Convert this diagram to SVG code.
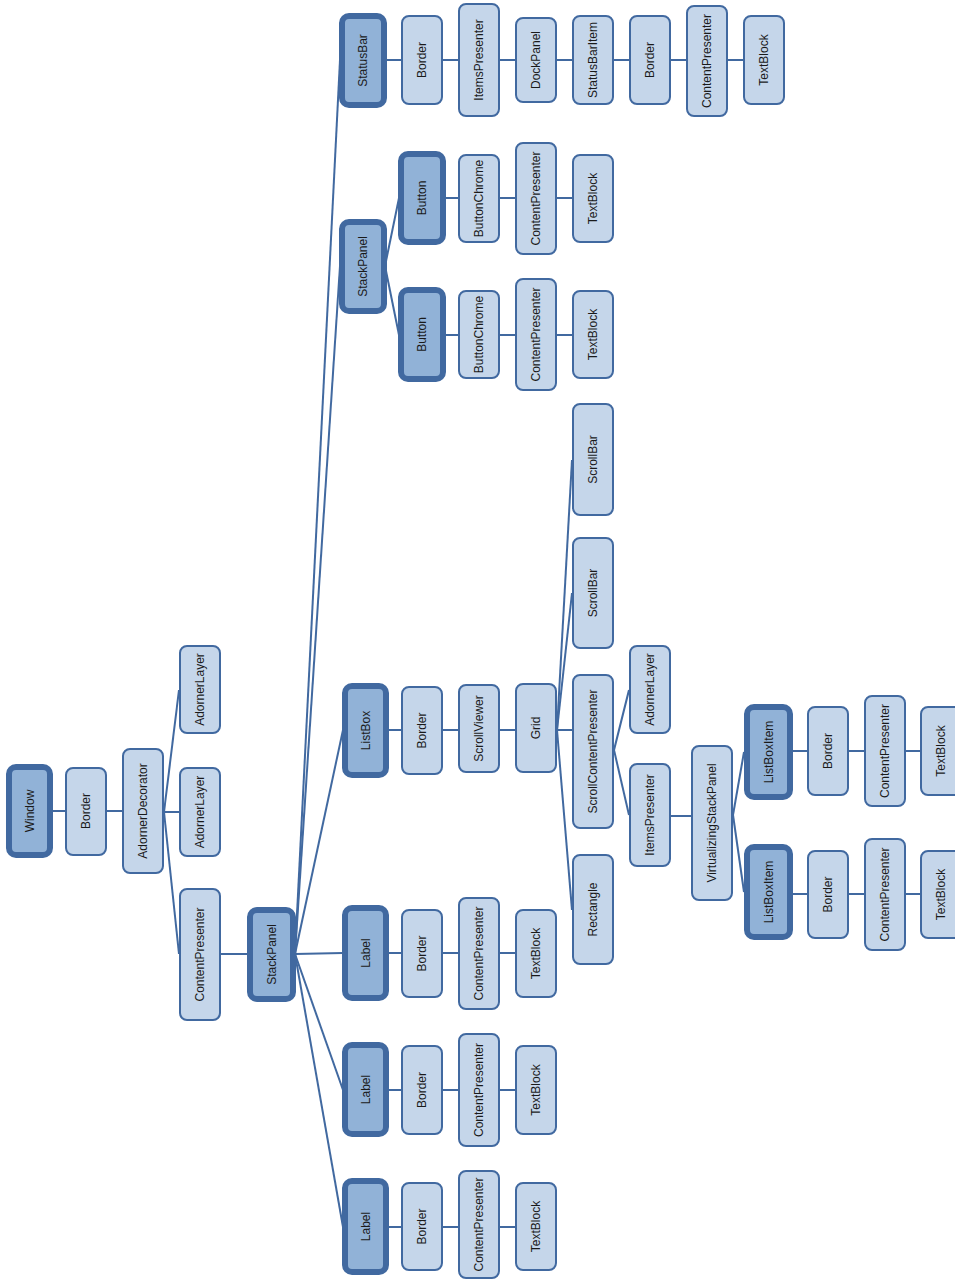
<svg xmlns="http://www.w3.org/2000/svg" width="955" height="1280" viewBox="0 0 955 1280">
<style>
.n{fill:#c5d6ea;stroke:#4169a0;stroke-width:2}
.t{fill:#91b2d7;stroke:#4169a0;stroke-width:6}
.e line{stroke:#4169a0;stroke-width:2}
text{font-family:"Liberation Sans",Arial,sans-serif;font-size:12px;fill:#1a1a1a;text-anchor:middle;dominant-baseline:central}
</style>
<rect width="955" height="1280" fill="#ffffff"/>
<g class="e" id="connectors">
<line x1="53" y1="811" x2="65" y2="811"/>
<line x1="107" y1="811" x2="122" y2="811"/>
<line x1="164" y1="812" x2="179" y2="690"/>
<line x1="164" y1="812" x2="179" y2="812"/>
<line x1="164" y1="812" x2="179" y2="954"/>
<line x1="221" y1="954" x2="247" y2="954"/>
<line x1="295" y1="954" x2="340" y2="60"/>
<line x1="295" y1="954" x2="340" y2="266"/>
<line x1="295" y1="954" x2="343" y2="730"/>
<line x1="295" y1="954" x2="343" y2="953"/>
<line x1="295" y1="954" x2="343" y2="1090"/>
<line x1="295" y1="954" x2="343" y2="1227"/>
<line x1="387" y1="60" x2="743" y2="60"/>
<line x1="385" y1="266" x2="399" y2="198"/>
<line x1="385" y1="266" x2="399" y2="335"/>
<line x1="446" y1="198" x2="572" y2="198"/>
<line x1="446" y1="335" x2="572" y2="335"/>
<line x1="389" y1="730" x2="515" y2="730"/>
<line x1="557" y1="730" x2="572" y2="460"/>
<line x1="557" y1="730" x2="572" y2="593"/>
<line x1="557" y1="730" x2="572" y2="730"/>
<line x1="557" y1="730" x2="572" y2="910"/>
<line x1="614" y1="750" x2="629" y2="690"/>
<line x1="614" y1="750" x2="629" y2="815"/>
<line x1="671" y1="816" x2="691" y2="816"/>
<line x1="733" y1="815" x2="744" y2="752"/>
<line x1="733" y1="815" x2="744" y2="892"/>
<line x1="793" y1="751" x2="920" y2="751"/>
<line x1="793" y1="894" x2="920" y2="894"/>
<line x1="389" y1="953" x2="515" y2="953"/>
<line x1="389" y1="1090" x2="515" y2="1090"/>
<line x1="389" y1="1227" x2="515" y2="1227"/>
</g>
<g id="window"><rect class="t" x="9" y="767" width="41" height="88" rx="7"/><text transform="rotate(-90 29.5 811)" x="29.5" y="811">Window</text></g>
<g id="border1"><rect class="n" x="66" y="768" width="40" height="87" rx="7"/><text transform="rotate(-90 86 811)" x="86" y="811">Border</text></g>
<g id="adornerDecorator"><rect class="n" x="123" y="749" width="40" height="124" rx="7"/><text transform="rotate(-90 143 811)" x="143" y="811">AdornerDecorator</text></g>
<g id="adornerLayer1"><rect class="n" x="180" y="646" width="40" height="87" rx="7"/><text transform="rotate(-90 200 689.5)" x="200" y="689.5">AdornerLayer</text></g>
<g id="adornerLayer2"><rect class="n" x="180" y="768" width="40" height="88" rx="7"/><text transform="rotate(-90 200 812)" x="200" y="812">AdornerLayer</text></g>
<g id="contentPresenter1"><rect class="n" x="180" y="889" width="40" height="131" rx="7"/><text transform="rotate(-90 200 954.5)" x="200" y="954.5">ContentPresenter</text></g>
<g id="stackPanel1"><rect class="t" x="250" y="910" width="43" height="89" rx="7"/><text transform="rotate(-90 271.5 954.5)" x="271.5" y="954.5">StackPanel</text></g>
<g id="statusBar"><rect class="t" x="342" y="16" width="42" height="89" rx="7"/><text transform="rotate(-90 363 60.5)" x="363" y="60.5">StatusBar</text></g>
<g id="sb_border"><rect class="n" x="402" y="16" width="40" height="88" rx="7"/><text transform="rotate(-90 422 60)" x="422" y="60">Border</text></g>
<g id="sb_itemsPresenter"><rect class="n" x="459" y="4" width="40" height="112" rx="7"/><text transform="rotate(-90 479 60)" x="479" y="60">ItemsPresenter</text></g>
<g id="sb_dockPanel"><rect class="n" x="516" y="18" width="40" height="84" rx="7"/><text transform="rotate(-90 536 60)" x="536" y="60">DockPanel</text></g>
<g id="sb_statusBarItem"><rect class="n" x="573" y="16" width="40" height="88" rx="7"/><text transform="rotate(-90 593 60)" x="593" y="60">StatusBarItem</text></g>
<g id="sb_border2"><rect class="n" x="630" y="16" width="40" height="88" rx="7"/><text transform="rotate(-90 650 60)" x="650" y="60">Border</text></g>
<g id="sb_contentPresenter"><rect class="n" x="687" y="6" width="40" height="110" rx="7"/><text transform="rotate(-90 707 61)" x="707" y="61">ContentPresenter</text></g>
<g id="sb_textBlock"><rect class="n" x="744" y="16" width="40" height="88" rx="7"/><text transform="rotate(-90 764 60)" x="764" y="60">TextBlock</text></g>
<g id="stackPanel2"><rect class="t" x="342" y="222" width="42" height="89" rx="7"/><text transform="rotate(-90 363 266.5)" x="363" y="266.5">StackPanel</text></g>
<g id="button1"><rect class="t" x="401" y="154" width="42" height="88" rx="7"/><text transform="rotate(-90 422 198)" x="422" y="198">Button</text></g>
<g id="b1_chrome"><rect class="n" x="459" y="155" width="40" height="87" rx="7"/><text transform="rotate(-90 479 198.5)" x="479" y="198.5">ButtonChrome</text></g>
<g id="b1_contentPresenter"><rect class="n" x="516" y="143" width="40" height="111" rx="7"/><text transform="rotate(-90 536 198.5)" x="536" y="198.5">ContentPresenter</text></g>
<g id="b1_textBlock"><rect class="n" x="573" y="155" width="40" height="87" rx="7"/><text transform="rotate(-90 593 198.5)" x="593" y="198.5">TextBlock</text></g>
<g id="button2"><rect class="t" x="401" y="290" width="42" height="89" rx="7"/><text transform="rotate(-90 422 334.5)" x="422" y="334.5">Button</text></g>
<g id="b2_chrome"><rect class="n" x="459" y="291" width="40" height="87" rx="7"/><text transform="rotate(-90 479 334.5)" x="479" y="334.5">ButtonChrome</text></g>
<g id="b2_contentPresenter"><rect class="n" x="516" y="279" width="40" height="111" rx="7"/><text transform="rotate(-90 536 334.5)" x="536" y="334.5">ContentPresenter</text></g>
<g id="b2_textBlock"><rect class="n" x="573" y="291" width="40" height="87" rx="7"/><text transform="rotate(-90 593 334.5)" x="593" y="334.5">TextBlock</text></g>
<g id="listBox"><rect class="t" x="345" y="686" width="41" height="89" rx="7"/><text transform="rotate(-90 365.5 730.5)" x="365.5" y="730.5">ListBox</text></g>
<g id="lb_border"><rect class="n" x="402" y="687" width="40" height="87" rx="7"/><text transform="rotate(-90 422 730.5)" x="422" y="730.5">Border</text></g>
<g id="lb_scrollViewer"><rect class="n" x="459" y="685" width="40" height="87" rx="7"/><text transform="rotate(-90 479 728.5)" x="479" y="728.5">ScrollViewer</text></g>
<g id="lb_grid"><rect class="n" x="516" y="684" width="40" height="88" rx="7"/><text transform="rotate(-90 536 728)" x="536" y="728">Grid</text></g>
<g id="scrollBar1"><rect class="n" x="573" y="404" width="40" height="111" rx="7"/><text transform="rotate(-90 593 459.5)" x="593" y="459.5">ScrollBar</text></g>
<g id="scrollBar2"><rect class="n" x="573" y="538" width="40" height="110" rx="7"/><text transform="rotate(-90 593 593)" x="593" y="593">ScrollBar</text></g>
<g id="scrollContentPresenter"><rect class="n" x="573" y="675" width="40" height="153" rx="7"/><text transform="rotate(-90 593 751.5)" x="593" y="751.5">ScrollContentPresenter</text></g>
<g id="rectangle"><rect class="n" x="573" y="855" width="40" height="109" rx="7"/><text transform="rotate(-90 593 909.5)" x="593" y="909.5">Rectangle</text></g>
<g id="adornerLayer3"><rect class="n" x="630" y="646" width="40" height="87" rx="7"/><text transform="rotate(-90 650 689.5)" x="650" y="689.5">AdornerLayer</text></g>
<g id="itemsPresenter2"><rect class="n" x="630" y="764" width="40" height="102" rx="7"/><text transform="rotate(-90 650 815)" x="650" y="815">ItemsPresenter</text></g>
<g id="virtualizingStackPanel"><rect class="n" x="692" y="746" width="40" height="154" rx="7"/><text transform="rotate(-90 712 823)" x="712" y="823">VirtualizingStackPanel</text></g>
<g id="listBoxItem1"><rect class="t" x="747" y="707" width="43" height="90" rx="7"/><text transform="rotate(-90 768.5 752)" x="768.5" y="752">ListBoxItem</text></g>
<g id="lbi1_border"><rect class="n" x="808" y="707" width="40" height="88" rx="7"/><text transform="rotate(-90 828 751)" x="828" y="751">Border</text></g>
<g id="lbi1_contentPresenter"><rect class="n" x="865" y="696" width="40" height="110" rx="7"/><text transform="rotate(-90 885 751)" x="885" y="751">ContentPresenter</text></g>
<g id="lbi1_textBlock"><rect class="n" x="921" y="707" width="40" height="88" rx="7"/><text transform="rotate(-90 941 751)" x="941" y="751">TextBlock</text></g>
<g id="listBoxItem2"><rect class="t" x="747" y="847" width="43" height="90" rx="7"/><text transform="rotate(-90 768.5 892)" x="768.5" y="892">ListBoxItem</text></g>
<g id="lbi2_border"><rect class="n" x="808" y="851" width="40" height="87" rx="7"/><text transform="rotate(-90 828 894.5)" x="828" y="894.5">Border</text></g>
<g id="lbi2_contentPresenter"><rect class="n" x="865" y="839" width="40" height="111" rx="7"/><text transform="rotate(-90 885 894.5)" x="885" y="894.5">ContentPresenter</text></g>
<g id="lbi2_textBlock"><rect class="n" x="921" y="851" width="40" height="87" rx="7"/><text transform="rotate(-90 941 894.5)" x="941" y="894.5">TextBlock</text></g>
<g id="label1"><rect class="t" x="345" y="908" width="41" height="90" rx="7"/><text transform="rotate(-90 365.5 953)" x="365.5" y="953">Label</text></g>
<g id="l1_border"><rect class="n" x="402" y="910" width="40" height="87" rx="7"/><text transform="rotate(-90 422 953.5)" x="422" y="953.5">Border</text></g>
<g id="l1_contentPresenter"><rect class="n" x="459" y="898" width="40" height="111" rx="7"/><text transform="rotate(-90 479 953.5)" x="479" y="953.5">ContentPresenter</text></g>
<g id="l1_textBlock"><rect class="n" x="516" y="910" width="40" height="87" rx="7"/><text transform="rotate(-90 536 953.5)" x="536" y="953.5">TextBlock</text></g>
<g id="label2"><rect class="t" x="345" y="1045" width="41" height="89" rx="7"/><text transform="rotate(-90 365.5 1089.5)" x="365.5" y="1089.5">Label</text></g>
<g id="l2_border"><rect class="n" x="402" y="1046" width="40" height="88" rx="7"/><text transform="rotate(-90 422 1090)" x="422" y="1090">Border</text></g>
<g id="l2_contentPresenter"><rect class="n" x="459" y="1034" width="40" height="112" rx="7"/><text transform="rotate(-90 479 1090)" x="479" y="1090">ContentPresenter</text></g>
<g id="l2_textBlock"><rect class="n" x="516" y="1046" width="40" height="88" rx="7"/><text transform="rotate(-90 536 1090)" x="536" y="1090">TextBlock</text></g>
<g id="label3"><rect class="t" x="345" y="1181" width="41" height="91" rx="7"/><text transform="rotate(-90 365.5 1226.5)" x="365.5" y="1226.5">Label</text></g>
<g id="l3_border"><rect class="n" x="402" y="1183" width="40" height="87" rx="7"/><text transform="rotate(-90 422 1226.5)" x="422" y="1226.5">Border</text></g>
<g id="l3_contentPresenter"><rect class="n" x="459" y="1171" width="40" height="107" rx="7"/><text transform="rotate(-90 479 1224.5)" x="479" y="1224.5">ContentPresenter</text></g>
<g id="l3_textBlock"><rect class="n" x="516" y="1183" width="40" height="87" rx="7"/><text transform="rotate(-90 536 1226.5)" x="536" y="1226.5">TextBlock</text></g>
</svg>
